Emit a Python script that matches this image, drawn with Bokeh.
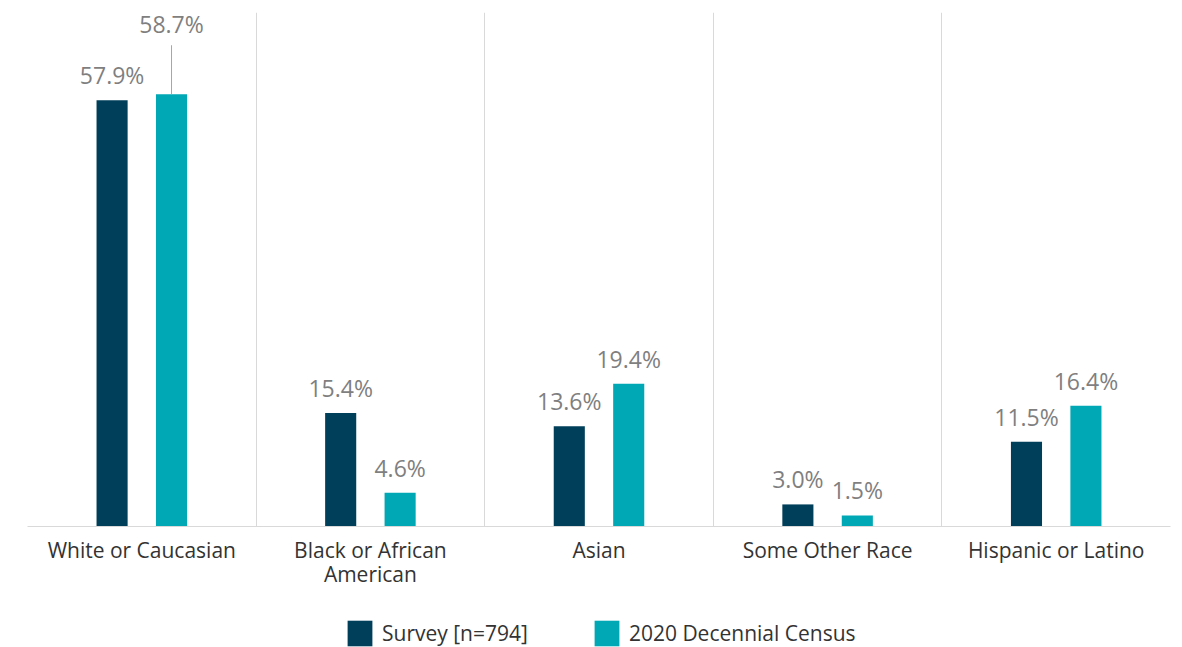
from bokeh.plotting import figure
from bokeh.layouts import column
from bokeh.models import ColumnDataSource, FixedTicker, Range1d, Legend, LegendItem
from bokeh.transform import dodge
from bokeh.core.properties import value
from bokeh.embed import file_html
from bokeh.resources import INLINE

categories = ["White or Caucasian", "Black or African American", "Asian",
              "Some Other Race", "Hispanic or Latino"]
tick_labels = ["White or Caucasian", "Black or African\nAmerican", "Asian",
               "Some Other Race", "Hispanic or Latino"]
survey = [57.9, 15.4, 13.6, 3.0, 11.5]
census = [58.7, 4.6, 19.4, 1.5, 16.4]
series_names = ["Survey [n=794]", "2020 Decennial Census"]

SURVEY_COLOR = "#003f5a"
CENSUS_COLOR = "#00a7b5"
LABEL_GRAY = "#7f7f7f"
FONT = "Open Sans"

xs = [i + 0.5 for i in range(len(categories))]
src = ColumnDataSource(dict(x=xs, survey=survey, census=census))

Y_MAX = 69.8
FRAME_H = 514
FRAME_W = 1143
px = Y_MAX / FRAME_H  # data units per pixel

p = figure(frame_width=FRAME_W, frame_height=FRAME_H, output_backend="svg",
           toolbar_location=None,
           x_range=Range1d(0, len(categories)), y_range=Range1d(0, Y_MAX),
           min_border_left=27, min_border_right=12, min_border_top=12,
           min_border_bottom=92)
p.outline_line_color = None
p.background_fill_color = "white"
p.border_fill_color = "white"

BW = 0.136
OFF = 0.13
p.vbar(x=dodge("x", -OFF, range=p.x_range), top="survey", width=BW,
       source=src, fill_color=SURVEY_COLOR, line_color=None)
p.vbar(x=dodge("x", OFF, range=p.x_range), top="census", width=BW,
       source=src, fill_color=CENSUS_COLOR, line_color=None)

LBL_OFF = -25
# value labels
sub_s = ColumnDataSource(dict(x=xs, y=survey, t=[f"{v:.1f}%" for v in survey]))
p.text(x=dodge("x", -OFF, range=p.x_range), y="y", text="t", source=sub_s,
       text_align="center", text_baseline="alphabetic", y_offset=LBL_OFF,
       text_font=value(FONT), text_font_size="23px", text_color=LABEL_GRAY)

# census labels: the first one is displaced upwards with a leader line
c_idx = list(range(1, len(census)))
sub_c = ColumnDataSource(dict(x=[xs[i] for i in c_idx], y=[census[i] for i in c_idx],
                              t=[f"{census[i]:.1f}%" for i in c_idx]))
p.text(x=dodge("x", OFF, range=p.x_range), y="y", text="t", source=sub_c,
       text_align="center", text_baseline="alphabetic", y_offset=LBL_OFF,
       text_font=value(FONT), text_font_size="23px", text_color=LABEL_GRAY)

sub_c0 = ColumnDataSource(dict(x=[xs[0]], y=[census[0]], t=[f"{census[0]:.1f}%"],
                               y1=[census[0] + 49 * px]))
p.segment(x0=dodge("x", OFF, range=p.x_range), y0="y",
          x1=dodge("x", OFF, range=p.x_range), y1="y1", source=sub_c0,
          line_color="#a6a6a6", line_width=1)
p.text(x=dodge("x", OFF, range=p.x_range), y="y", text="t", source=sub_c0,
       text_align="center", text_baseline="alphabetic", y_offset=-70,
       text_font=value(FONT), text_font_size="23px", text_color=LABEL_GRAY)

# axes
p.yaxis.visible = False
p.xaxis.ticker = FixedTicker(ticks=xs)
p.xaxis.major_label_overrides = {x: lab for x, lab in zip(xs, tick_labels)}
p.xaxis.major_tick_line_color = None
p.xaxis.minor_tick_line_color = None
p.xaxis.axis_line_color = "#d9d9d9"
p.xaxis.axis_line_width = 1
p.xaxis.major_label_text_font = FONT
p.xaxis.major_label_text_font_size = "21px"
p.xaxis.major_label_text_color = "#333333"
p.xaxis.major_label_text_line_height = 0.88
p.xaxis.major_label_standoff = 3

p.ygrid.visible = False
p.xgrid.ticker = FixedTicker(ticks=list(range(len(categories) + 1)))
p.xgrid.grid_line_color = "#d9d9d9"
p.xgrid.grid_line_width = 1

# legend strip below the chart (zero-height bars serve as legend sources)
lg = figure(width=FRAME_W + 39, height=29, output_backend="svg", toolbar_location=None,
            x_range=Range1d(0, 1), y_range=Range1d(0, 1),
            x_axis_location=None, y_axis_location=None,
            min_border_left=0, min_border_right=0, min_border_top=0, min_border_bottom=0)
lg.grid.visible = False
lg.outline_line_color = None
lg.border_fill_color = "white"
dummy = ColumnDataSource(dict(x=[0.5], top=[0.0]))
lr1 = lg.vbar(x="x", top="top", width=0.01, source=dummy,
              fill_color=SURVEY_COLOR, line_color=None)
lr2 = lg.vbar(x="x", top="top", width=0.01, source=dummy,
              fill_color=CENSUS_COLOR, line_color=None)
legend = Legend(items=[LegendItem(label=series_names[0], renderers=[lr1]),
                       LegendItem(label=series_names[1], renderers=[lr2])],
                orientation="horizontal", location=(317, -2),
                glyph_width=31, glyph_height=32, label_standoff=7, spacing=63,
                label_text_font=FONT, label_text_font_size="21px",
                label_text_color="#333333", border_line_color=None,
                background_fill_alpha=0, padding=0, margin=0)
lg.add_layout(legend, "center")

layout = column(p, lg, spacing=0)
open("out.html", "w").write(file_html(layout, INLINE))
